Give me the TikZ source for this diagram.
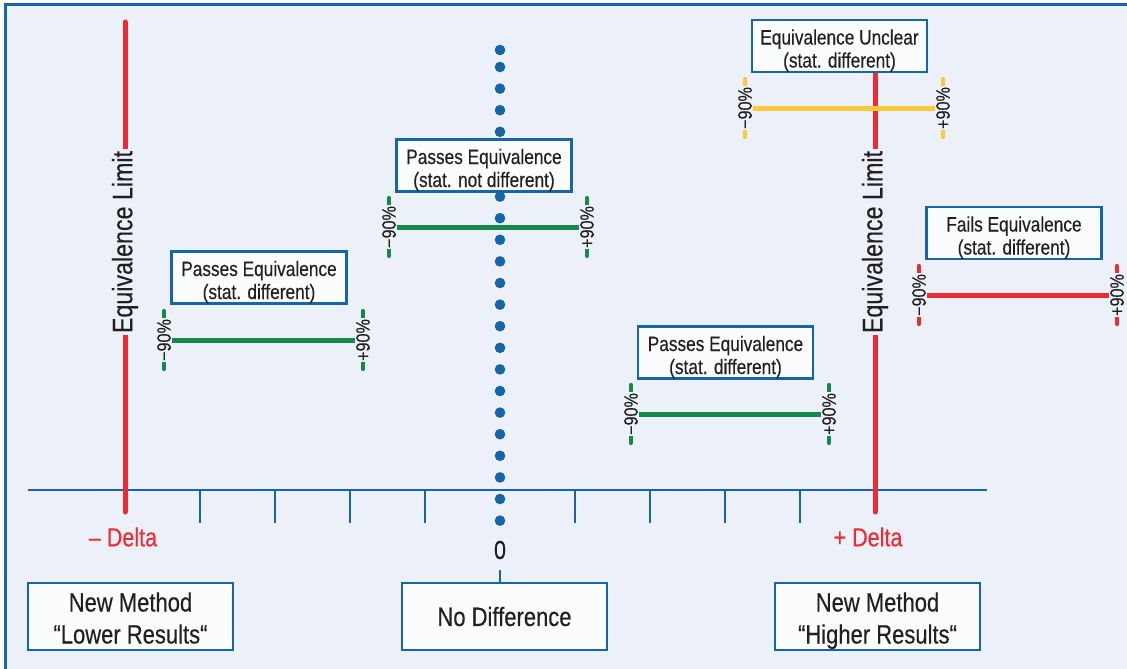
\documentclass[tikz,border=0pt]{standalone}
\usepackage{fontspec}
\setmainfont{Liberation Sans}[FakeStretch=0.83, FakeBold=0.3]
\definecolor{bgpanel}{HTML}{ECF0F8}
\definecolor{eqblue}{HTML}{1565A8}
\definecolor{eqred}{HTML}{EE2A32}
\definecolor{eqgreen}{HTML}{15894A}
\definecolor{eqyellow}{HTML}{FDC83A}
\definecolor{ink}{HTML}{231F20}
\definecolor{boxfill}{HTML}{FAFCFE}

\tikzset{
  frameline/.style={draw=eqblue, line width=3pt, line join=miter},
  axisline/.style={draw=eqblue, line width=2.5pt},
  tickmark/.style={draw=eqblue, line width=2.5pt},
  limitline/.style={draw=eqred, line width=5pt, line cap=round},
  limitlabel/.style={rotate=90, fill=bgpanel, inner sep=2pt, text=ink,
    font=\fontsize{28}{30}\selectfont},
  statbox/.style={draw=eqblue, fill=boxfill, line width=2.5pt, align=center,
    minimum width=175pt, minimum height=52pt, inner sep=0pt, text=ink,
    font=\fontsize{20.8}{23}\selectfont},
  bigbox/.style={draw=eqblue, fill=boxfill, line width=2.5pt, align=center,
    minimum width=205pt, minimum height=67pt, inner sep=0pt, text=ink,
    font=\fontsize{26.5}{32}\selectfont},
  pctlabel/.style={rotate=90, fill=bgpanel, inner sep=1pt, text=ink,
    font=\fontsize{19.5}{19.5}\selectfont},
  cibar/.style={line width=4.2pt, line cap=round},
  ciline/.style={line width=5pt},
  deltalabel/.style={text=eqred, font=\fontsize{26}{28}\selectfont},
  zerodot/.style={fill=eqblue},
}

% two-line caption with a fixed first-line height and no depth below
\newcommand\twolines[3]{\rule{0pt}{#1}#2\\\raisebox{0pt}[\height][0pt]{#3}}

% confidence interval: colour, left x, right x, y, name
\newcommand\confint[5]{%
  \draw[cibar, draw=#1] (#2,#4-29) -- (#2,#4+29);
  \draw[cibar, draw=#1] (#3,#4-29) -- (#3,#4+29);
  \node[pctlabel] (#5l) at (#2,#4) {−90\%};
  \node[pctlabel] (#5r) at (#3,#4) {+90\%};
  \draw[ciline, draw=#1] (#5l.south) -- (#5r.north);
}

\begin{document}
\begin{tikzpicture}[x=1pt, y=-1pt]
  \useasboundingbox (0,0) rectangle (1127,669);
  \fill[white] (0,0) rectangle (1127,669);
  \fill[bgpanel] (5,5) rectangle (1127,669);
  \draw[frameline] (5,669) -- (5,5) -- (1127,5);

  % horizontal scale with ticks
  \coordinate (axL) at (28,490);
  \coordinate (axR) at (987,490);
  \draw[axisline] (axL) -- (axR);
  \foreach \tx in {200,275,350,425,575,650,725,800}
    \draw[tickmark] (\tx,490) -- (\tx,523);

  % line of no difference
  \fill[zerodot] (500,50) circle (5.3);
  \foreach \k in {0,...,21}
    \fill[zerodot] (500,67+21.6*\k) circle (5.3);

  % equivalence limits
  \coordinate (limLtop) at (125,22);
  \coordinate (limLbot) at (125,512);
  \coordinate (limRtop) at (875,60);
  \coordinate (limRbot) at (875,512);
  \draw[limitline] (limLtop) -- (limLbot);
  \draw[limitline] (limRtop) -- (limRbot);
  \node[limitlabel] (limL) at (125,242) {Equivalence Limit};
  \node[limitlabel] (limR) at (875,242) {Equivalence Limit};

  % outcome boxes
  \node[statbox] (boxA) at (259,277.5) {\twolines{20pt}{Passes Equivalence}{(stat. different)}};
  \node[statbox] (boxB) at (484,165.5) {\twolines{20pt}{Passes Equivalence}{(stat. not different)}};
  \node[statbox] (boxC) at (839.5,46) {\twolines{20pt}{Equivalence Unclear}{(stat. different)}};
  \node[statbox] (boxD) at (725.5,352.5) {\twolines{20pt}{Passes Equivalence}{(stat. different)}};
  \node[statbox] (boxE) at (1014,233) {\twolines{20pt}{Fails Equivalence}{(stat. different)}};

  % confidence intervals
  \confint{eqgreen}{164}{363}{340}{ciA}
  \confint{eqgreen}{389}{587}{227}{ciB}
  \confint{eqyellow}{745}{943}{108}{ciC}
  \confint{eqgreen}{631}{829}{414}{ciD}
  \confint{eqred}{919}{1117}{295}{ciE}

  % axis labels
  \node[deltalabel] (dminus) at (123,537) {– Delta};
  \node[deltalabel] (dplus) at (868,537) {+ Delta};
  \node[text=ink, font=\fontsize{26}{28}\selectfont] (zero) at (500,550) {0};

  % bottom captions
  \node[bigbox] (lower) at (130.5,616.5) {\twolines{22pt}{New Method}{“Lower Results“}};
  \node[bigbox] (nodiff) at (504.5,616.5) {No Difference};
  \node[bigbox] (higher) at (877.5,616.5) {\twolines{22pt}{New Method}{“Higher Results“}};
  \coordinate (zstem) at (500,570);
  \draw[tickmark] (zstem) -- (zstem |- nodiff.north);
\end{tikzpicture}
\end{document}
